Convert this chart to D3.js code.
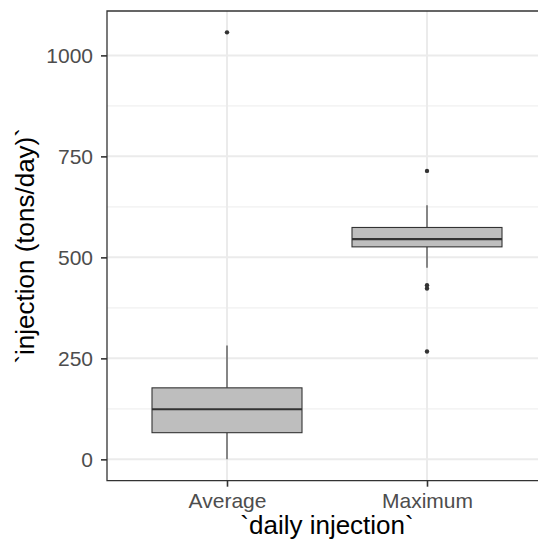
<!DOCTYPE html>
<html>
<head>
<meta charset="utf-8">
<script src="https://cdn.jsdelivr.net/npm/d3@7"></script>
<style>
	html, body { margin: 0; padding: 0; background: #fff; overflow: hidden; }
	svg { display: block; font-family: "Liberation Sans", Arial, sans-serif; }
</style>
</head>
<body>
<div id="vizHolder"></div>
<script>
var categories = ['Average', 'Maximum'],
	whiskerLow = [0, 474],
	q1 = [66, 526],
	median = [124, 545],
	q3 = [177, 574],
	whiskerHigh = [282, 629],
	outliers = [[1057], [714, 431, 423, 267]],
	yTicks = [0, 250, 500, 750, 1000],
	yMinor = [125, 375, 625, 875];

var width = 538,
	height = 544,
	margin = { top: 11, left: 107 },
	panelW = 440,
	panelH = 469.7;

var svg = d3.select('#vizHolder')
	.append('svg')
	.attr('width', width)
	.attr('height', height);

//Scales with ggplot style expansion
var yMax = d3.max(outliers, function(d) { return d3.max(d); }),
	yMin = d3.min(whiskerLow),
	pad = (yMax - yMin) * 0.05;

var yScale = d3.scaleLinear()
	.domain([yMin - pad, yMax + pad])
	.range([panelH, 0]);

// discrete expansion of 0.6 on each side -> step of 200px
var xScale = d3.scalePoint()
	.domain(categories)
	.range([0, panelW])
	.padding(0.6);

var viz = svg.append('g')
	.attr('transform', 'translate(' + margin.left + ',' + margin.top + ')');

//Grid
viz.selectAll('.minor')
	.data(yMinor)
	.enter().append('line')
	.attr('x1', 0).attr('x2', panelW)
	.attr('y1', function(d) { return yScale(d); })
	.attr('y2', function(d) { return yScale(d); })
	.attr('stroke', '#f0f0f0').attr('stroke-width', 1.1);

viz.selectAll('.major')
	.data(yTicks)
	.enter().append('line')
	.attr('x1', 0).attr('x2', panelW)
	.attr('y1', function(d) { return yScale(d); })
	.attr('y2', function(d) { return yScale(d); })
	.attr('stroke', '#ebebeb').attr('stroke-width', 2);

viz.selectAll('.vmajor')
	.data(categories)
	.enter().append('line')
	.attr('x1', function(d) { return xScale(d); })
	.attr('x2', function(d) { return xScale(d); })
	.attr('y1', 0).attr('y2', panelH)
	.attr('stroke', '#ebebeb').attr('stroke-width', 2);

//Boxes
var boxW = xScale.step() * 0.75;
var boxes = viz.selectAll('.box')
	.data(categories)
	.enter().append('g');

boxes.append('line')
	.attr('x1', function(d) { return xScale(d); })
	.attr('x2', function(d) { return xScale(d); })
	.attr('y1', function(d, i) { return yScale(whiskerHigh[i]); })
	.attr('y2', function(d, i) { return yScale(q3[i]); })
	.attr('stroke', '#333').attr('stroke-width', 1.1);

boxes.append('line')
	.attr('x1', function(d) { return xScale(d); })
	.attr('x2', function(d) { return xScale(d); })
	.attr('y1', function(d, i) { return yScale(q1[i]); })
	.attr('y2', function(d, i) { return yScale(whiskerLow[i]); })
	.attr('stroke', '#333').attr('stroke-width', 1.1);

boxes.append('rect')
	.attr('x', function(d) { return xScale(d) - boxW / 2; })
	.attr('width', boxW)
	.attr('y', function(d, i) { return yScale(q3[i]); })
	.attr('height', function(d, i) { return yScale(q1[i]) - yScale(q3[i]); })
	.attr('fill', '#bebebe')
	.attr('stroke', '#333').attr('stroke-width', 1.1);

boxes.append('line')
	.attr('x1', function(d) { return xScale(d) - boxW / 2; })
	.attr('x2', function(d) { return xScale(d) + boxW / 2; })
	.attr('y1', function(d, i) { return yScale(median[i]); })
	.attr('y2', function(d, i) { return yScale(median[i]); })
	.attr('stroke', '#333').attr('stroke-width', 2.2);

boxes.each(function(d, i) {
	d3.select(this).selectAll('circle')
		.data(outliers[i])
		.enter().append('circle')
		.attr('cx', xScale(d))
		.attr('cy', function(v) { return yScale(v); })
		.attr('r', 2.2)
		.attr('fill', '#333');
});

//Panel border (right edge falls outside the window)
viz.append('path')
	.attr('d', 'M' + panelW + ',0H0V' + panelH + 'H' + panelW)
	.attr('fill', 'none')
	.attr('stroke', '#333').attr('stroke-width', 1.3);

//Axes
var yAxis = viz.append('g')
	.call(d3.axisLeft(yScale).tickValues(yTicks).tickFormat(d3.format('d')).tickSize(6).tickPadding(8));
var xAxis = viz.append('g')
	.attr('transform', 'translate(0,' + panelH + ')')
	.call(d3.axisBottom(xScale).tickSize(6).tickPadding(6));

[yAxis, xAxis].forEach(function(ax) {
	ax.select('.domain').remove();
	ax.selectAll('line').attr('stroke', '#333').attr('stroke-width', 1.6);
	ax.selectAll('text')
		.attr('fill', '#4d4d4d')
		.style('font-size', '21px')
		.style('font-family', '"Liberation Sans", Arial, sans-serif');
});

//Titles
svg.append('text')
	.attr('x', margin.left + panelW / 2)
	.attr('y', 534)
	.attr('text-anchor', 'middle')
	.style('font-size', '26px')
	.attr('fill', '#000')
	.text('`daily injection`');

svg.append('text')
	.attr('transform', 'translate(34,' + (margin.top + panelH / 2) + ') rotate(-90)')
	.attr('text-anchor', 'middle')
	.style('font-size', '26px')
	.attr('fill', '#000')
	.text('`injection (tons/day)`');
</script>
</body>
</html>
